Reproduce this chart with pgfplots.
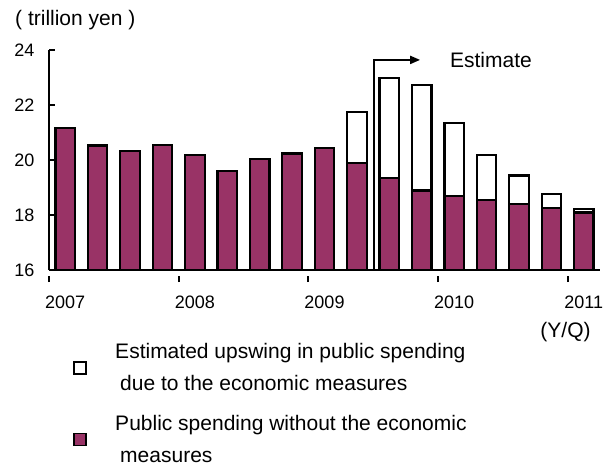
\documentclass[border=0pt]{standalone}
\usepackage{fontspec}
\setmainfont{Liberation Sans}
\usepackage{pgfplots}
\pgfplotsset{compat=1.18}
\usetikzlibrary{arrows.meta}
\definecolor{plum}{HTML}{993366}

\begin{document}
\begin{tikzpicture}
% page frame: 604 x 467, axis box lower left at (0,0)
\path[use as bounding box] (-49bp,-197bp) rectangle (555bp,270bp);
\begin{axis}[
  at={(0,0)}, anchor=south west,
  scale only axis, width=551bp, height=220bp,
  xmin=-0.5, xmax=16.5, ymin=16, ymax=24,
  axis lines=left,
  axis line style={line width=2bp, -},
  ytick={16,18,20,22,24},
  xtick={-0.5,3.5,7.5,11.5,15.5},
  xticklabels={2007,2008,2009,2010,2011},
  tick align=inside, major tick length=6bp,
  tick style={line width=2bp, black},
  x tick style={yshift=-6bp},
  xticklabel style={xshift=16.2bp, yshift=-16bp, font=\fontsize{18bp}{18bp}\selectfont},
  yticklabel style={xshift=-11bp, font=\fontsize{18bp}{18bp}\selectfont},
  /pgf/number format/assume math mode=true,
  ybar, bar shift=0pt, bar width=19.5bp,
  legend style={at={(rel axis cs:0.044,-0.333)}, anchor=north west,
    draw=none, fill=none, inner sep=0pt, row sep=23bp, column sep=28bp,
    nodes={font=\fontsize{21bp}{32bp}\selectfont, align=left, anchor=west, inner sep=0pt}},
  legend image code/.code={\draw[#1, line width=1.8bp] (0bp,-6bp) rectangle (12bp,6bp);},
]
% bar totals with the economic measures (estimate)
\addplot[draw=black, fill=white, line width=2.2bp] coordinates {
  (9,21.75) (10,22.98) (11,22.73) (12,21.34)
  (13,20.17) (14,19.44) (15,18.77) (16,18.23)};
\addlegendentry{Estimated upswing in public spending\\\hspace*{5bp}due to the economic measures}
% public spending without the measures
\addplot[draw=black, fill=plum, line width=2.2bp] coordinates {
  (0,21.15) (1,20.53) (2,20.34) (3,20.54) (4,20.17) (5,19.59)
  (6,20.05) (7,20.24) (8,20.44) (9,19.88) (10,19.36) (11,18.89)
  (12,18.70) (13,18.55) (14,18.40) (15,18.26) (16,18.09)};
\addlegendentry{Public spending without the economic\\\hspace*{5bp}measures}

\draw[line width=2bp, -{Triangle[length=10bp, width=8bp]}]
  (axis cs:9.54,16) |- (axis cs:10.95,23.64);
\node[anchor=west, inner sep=0pt, font=\fontsize{21bp}{21bp}\selectfont]
  at (axis cs:11.87,23.64) {Estimate};
\end{axis}
\node[anchor=west, inner sep=0pt, font=\fontsize{21bp}{21bp}\selectfont]
  at (-34bp,250bp) {( trillion yen )};
\node[inner sep=0pt, font=\fontsize{21bp}{21bp}\selectfont]
  at (516.5bp,-62bp) {(Y/Q)};
\end{tikzpicture}
\end{document}
